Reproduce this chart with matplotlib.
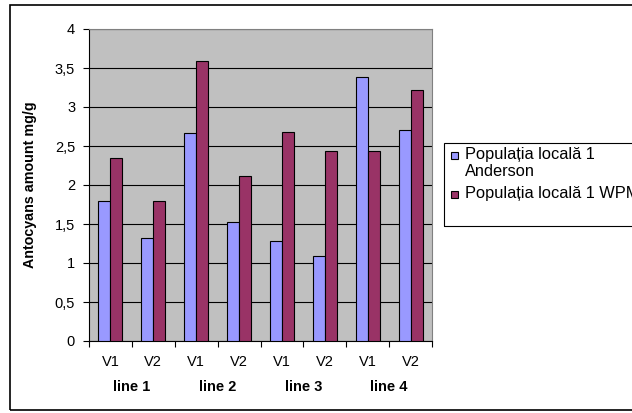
import numpy as np
import matplotlib.pyplot as plt
from matplotlib.patches import Rectangle
from matplotlib.transforms import blended_transform_factory

plt.rcParams['font.family'] = ['Liberation Sans', 'DejaVu Sans']

# data
lines = ['line 1', 'line 2', 'line 3', 'line 4']
variants = ['V1', 'V2', 'V1', 'V2', 'V1', 'V2', 'V1', 'V2']
anderson = [1.80, 1.32, 2.67, 1.53, 1.28, 1.09, 3.39, 2.70]
wpm = [2.35, 1.80, 3.59, 2.11, 2.68, 2.44, 2.44, 3.22]
series_names = ['Populația locală 1\nAnderson', 'Populația locală 1 WPM']
yticks = [0, 0.5, 1, 1.5, 2, 2.5, 3, 3.5, 4]

blue = '#9999FF'
red = '#993366'

W, H = 632, 413
fig = plt.figure(figsize=(W / 100, H / 100), dpi=100)
ax = fig.add_axes([89 / W, 1 - 341 / H, 343 / W, 312 / H])
ax.set_facecolor('#C0C0C0')

x = np.arange(len(variants)) + 0.5
bw = 0.28
ax.bar(x - bw / 2, anderson, bw, color=blue, edgecolor='black', linewidth=0.8, zorder=3)
ax.bar(x + bw / 2, wpm, bw, color=red, edgecolor='black', linewidth=0.8, zorder=3)

ax.set_xlim(0, len(variants))
ax.set_ylim(0, 4)
ax.set_yticks(yticks)
ax.set_yticklabels([('%g' % v).replace('.', ',') for v in yticks], fontsize=10.5)
ax.yaxis.grid(True, color='black', linewidth=0.8, zorder=1)

# category boundaries as major ticks, labels on minor ticks
ax.set_xticks(np.arange(len(variants) + 1))
ax.set_xticklabels([])
ax.set_xticks(x, minor=True)
ax.set_xticklabels(variants, minor=True, fontsize=10.5)
ax.tick_params(axis='x', which='major', direction='out', length=4, width=0.8)
ax.tick_params(axis='x', which='minor', length=0, pad=10)
ax.tick_params(axis='y', direction='out', length=4, width=0.8, pad=6)

for s in ['top', 'right']:
    ax.spines[s].set_color('#808080')
for s in ['left', 'bottom']:
    ax.spines[s].set_color('black')

trans = blended_transform_factory(ax.transData, ax.transAxes)
for i, name in enumerate(lines):
    ax.text(2 * i + 1, -0.147, name, transform=trans, ha='center', va='center',
            fontsize=10.5, fontweight='bold')

ax.set_ylabel('Antocyans amount mg/g', fontsize=10.3, fontweight='bold')
ax.yaxis.set_label_coords(-0.152, 0.5)

# outer chart border (right edge falls outside the picture)
fig.patches.append(Rectangle((10 / W, 1 - 410 / H), 1, 405 / H, transform=fig.transFigure,
                             fill=False, edgecolor='black', linewidth=1.2))

# legend box, cut off on the right like the reference
fig.patches.append(Rectangle((444 / W, 1 - 226 / H), 1, 83 / H, transform=fig.transFigure,
                             fill=False, edgecolor='black', linewidth=0.8))
for color, name, ym in [(blue, series_names[0], 155), (red, series_names[1], 194)]:
    fig.patches.append(Rectangle((451 / W, 1 - (ym + 3.5) / H), 7 / W, 7 / H,
                                 transform=fig.transFigure, facecolor=color,
                                 edgecolor='black', linewidth=0.8))
    fig.text(465 / W, 1 - (ym - 7.5) / H, name, fontsize=11.8, va='top', ha='left',
             linespacing=1.1)

fig.savefig('out.png', dpi=100)
